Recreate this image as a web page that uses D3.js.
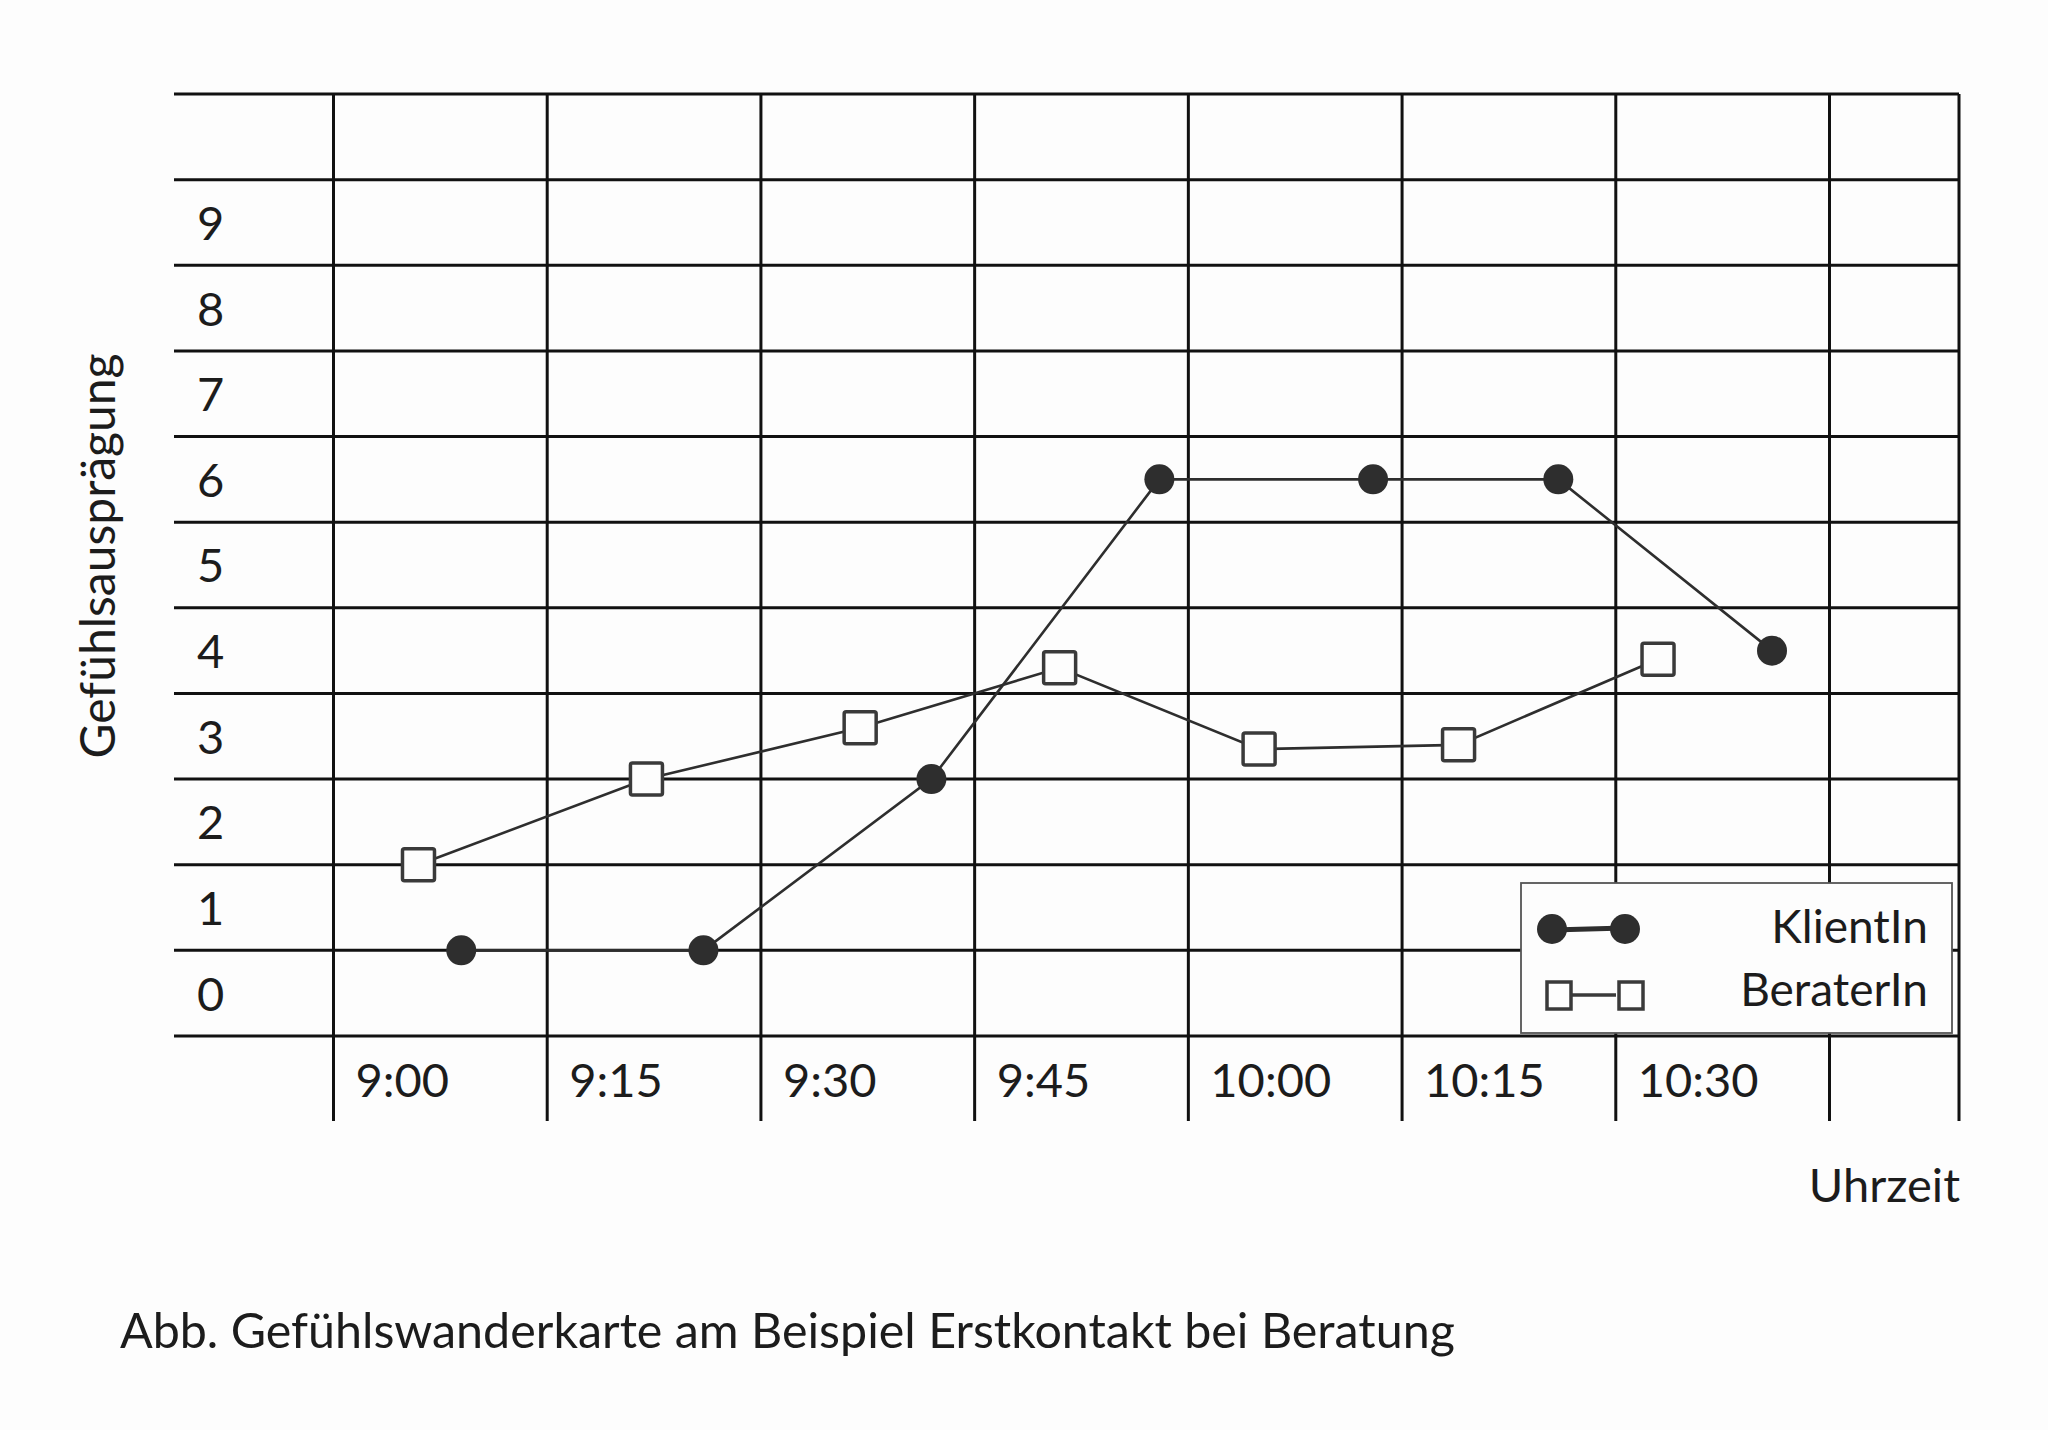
<!DOCTYPE html>
<html><head><meta charset="utf-8">
<script src="https://cdn.jsdelivr.net/npm/d3@7"></script>
<style>
html,body{margin:0;padding:0;background:#fdfdfd;}
svg{display:block;}
text{font-family:Lato,"Open Sans",sans-serif;fill:#1c1c1c;}
</style></head><body>
<svg id="chart" width="2048" height="1430"></svg>
<script>
// ---- data ----
const timeTicks = ["9:00","9:15","9:30","9:45","10:00","10:15","10:30"];
const gridTimes = ["9:00","9:15","9:30","9:45","10:00","10:15","10:30","10:45"];
const valueTicks = [0,1,2,3,4,5,6,7,8,9];
const klientTimes = ["9:09","9:26","9:42","9:58","10:13","10:26","10:41"];
const klientValues = [0.5,0.5,2.5,6,6,6,4];
const beraterTimes = ["9:06","9:22","9:37","9:51","10:05","10:19","10:33"];
const beraterValues = [1.5,2.5,3.1,3.8,2.85,2.9,3.9];
const seriesNames = ["KlientIn","BeraterIn"];
const yTitle = "Gefühlsausprägung";
const xTitle = "Uhrzeit";
const caption = "Abb. Gefühlswanderkarte am Beispiel Erstkontakt bei Beratung";

// ---- layout ----
const parse = d3.timeParse("%H:%M");
const gLeft = 174, gRight = 1959, gTop = 94, gBottom = 1036, gLabelBottom = 1121;
const x = d3.scaleTime().domain([parse("9:00"), parse("10:45")]).range([333, 1829]);
const y = d3.scaleLinear().domain([-0.5, 10.5]).range([gBottom, gTop]);

const svg = d3.select("#chart");
svg.append("rect").attr("width",2048).attr("height",1430).attr("fill","#fdfdfd");

const gridColor = "#111", gridW = 3;
// horizontal grid lines (row boundaries)
const rowEdges = d3.range(y.domain()[0], y.domain()[1] + 0.01, 1);
svg.append("g").selectAll("line").data(rowEdges).join("line")
  .attr("x1", gLeft).attr("x2", gRight)
  .attr("y1", d => y(d)).attr("y2", d => y(d))
  .attr("stroke", gridColor).attr("stroke-width", gridW);

// vertical grid lines via axis
const xGrid = svg.append("g").attr("transform", `translate(0,${gLabelBottom})`)
  .call(d3.axisBottom(x).tickValues(gridTimes.map(parse)).tickSize(-(gLabelBottom - gTop)).tickFormat(""));
xGrid.select(".domain").remove();
xGrid.selectAll("line").attr("stroke", gridColor).attr("stroke-width", gridW);
svg.append("line").attr("x1", gRight).attr("x2", gRight).attr("y1", gTop).attr("y2", gLabelBottom)
  .attr("stroke", gridColor).attr("stroke-width", gridW);

// y tick labels
const yAx = svg.append("g").attr("transform", "translate(197,0)")
  .call(d3.axisLeft(y).tickValues(valueTicks).tickSize(0).tickFormat(d3.format("d")));
yAx.select(".domain").remove();
yAx.selectAll("text").attr("text-anchor","start").attr("x",0).attr("dy","0.36em")
  .attr("font-size",47).attr("font-family","Lato").attr("fill","#1c1c1c");

// x tick labels
const xAx = svg.append("g").attr("transform", `translate(0,${gBottom})`)
  .call(d3.axisBottom(x).tickValues(timeTicks.map(parse)).tickSize(0).tickFormat(d3.timeFormat("%-H:%M")));
xAx.select(".domain").remove();
xAx.selectAll("text").attr("text-anchor","start").attr("x",22).attr("y",61).attr("dy",0)
  .attr("font-size",47).attr("font-family","Lato").attr("fill","#1c1c1c");

// series
const klient = klientTimes.map((t,i) => ({t: parse(t), v: klientValues[i]}));
const berater = beraterTimes.map((t,i) => ({t: parse(t), v: beraterValues[i]}));
const line = d3.line().x(d => x(d.t)).y(d => y(d.v));
const markColor = "#2e2e2e";

svg.append("path").datum(berater).attr("d", line)
  .attr("fill","none").attr("stroke", markColor).attr("stroke-width", 2.6);
svg.append("path").datum(klient).attr("d", line)
  .attr("fill","none").attr("stroke", markColor).attr("stroke-width", 2.6);

const sq = 32;
svg.append("g").selectAll("rect").data(berater).join("rect")
  .attr("x", d => x(d.t) - sq/2).attr("y", d => y(d.v) - sq/2)
  .attr("width", sq).attr("height", sq).attr("rx", 2)
  .attr("fill", "#fdfdfd").attr("stroke", "#3a3a3a").attr("stroke-width", 3.5);

svg.append("g").selectAll("circle").data(klient).join("circle")
  .attr("cx", d => x(d.t)).attr("cy", d => y(d.v)).attr("r", 15)
  .attr("fill", markColor);

// legend
const lg = svg.append("g");
lg.append("rect").attr("x",1521).attr("y",883).attr("width",431).attr("height",150)
  .attr("fill","#fdfdfd").attr("stroke","#555").attr("stroke-width",1.8);
lg.append("line").attr("x1",1552).attr("x2",1625).attr("y1",930).attr("y2",928)
  .attr("stroke",markColor).attr("stroke-width",5);
lg.selectAll("circle").data([1552,1625]).join("circle")
  .attr("cx",d=>d).attr("cy",929).attr("r",15).attr("fill",markColor);
lg.append("line").attr("x1",1572).attr("x2",1616).attr("y1",995).attr("y2",995)
  .attr("stroke","#3a3a3a").attr("stroke-width",3.5);
lg.selectAll("rect.s").data([1559,1631]).join("rect").attr("class","s")
  .attr("x",d=>d-12).attr("y",982).attr("width",24).attr("height",27)
  .attr("fill","none").attr("stroke","#3a3a3a").attr("stroke-width",3.5);
lg.selectAll("text").data(seriesNames).join("text")
  .attr("x",1928).attr("y",(d,i)=>943 + i*63).attr("text-anchor","end")
  .attr("font-size",46).text(d=>d);

// titles
svg.append("text").attr("transform","translate(115,556) rotate(-90)")
  .attr("text-anchor","middle").attr("font-size",48).text(yTitle);
svg.append("text").attr("x",1960).attr("y",1202).attr("text-anchor","end")
  .attr("font-size",47).text(xTitle);
svg.append("text").attr("x",120).attr("y",1348).attr("font-size",48.4).text(caption);
</script>
</body></html>
